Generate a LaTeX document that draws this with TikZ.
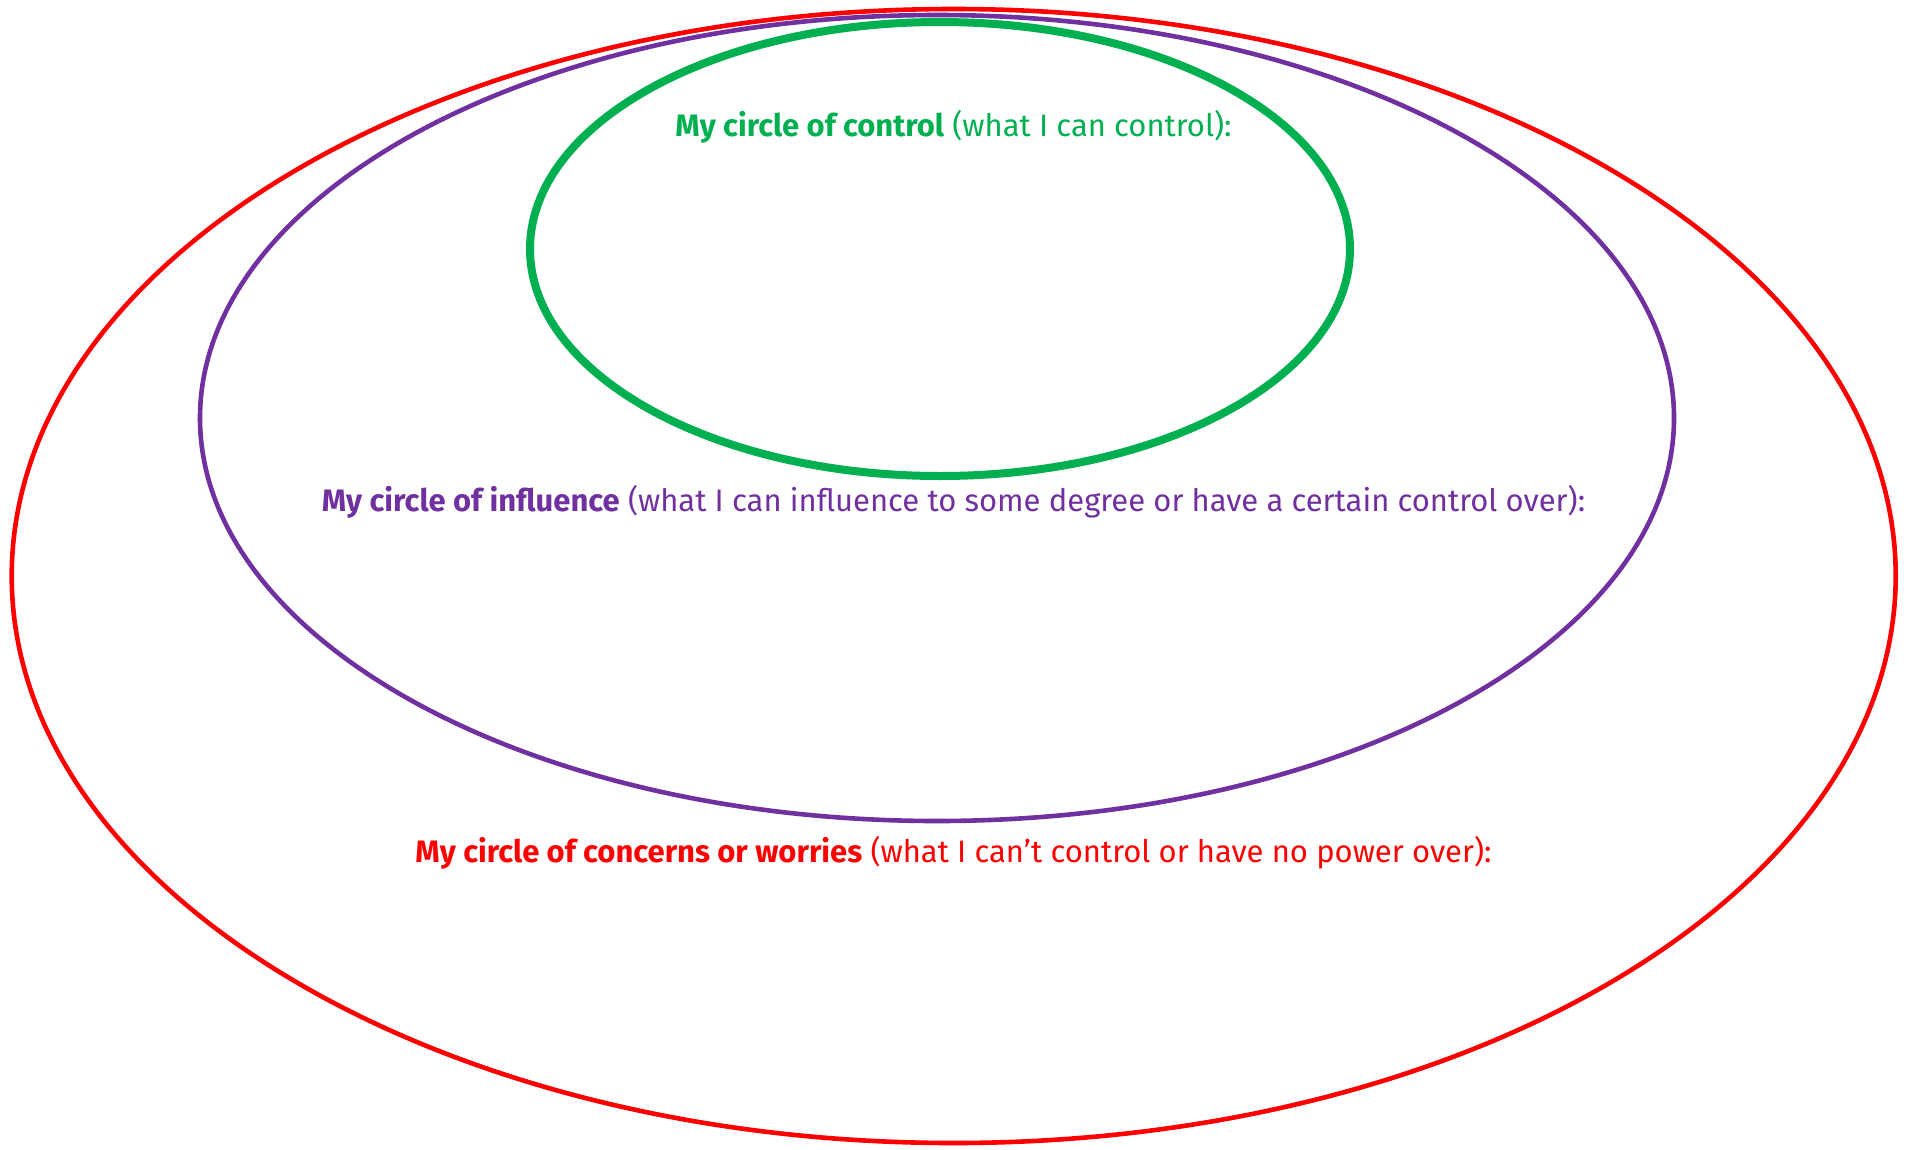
\documentclass[tikz,border=0pt]{standalone}
\usepackage{fontspec}
\setmainfont{Fira Sans}
\definecolor{cred}{HTML}{FF0000}
\definecolor{cpurple}{HTML}{7030A0}
\definecolor{cgreen}{HTML}{00B050}
\tikzset{
  ring/.style={line width=4.6pt},
  lbl/.style={inner sep=0pt, anchor=center, font=\fontsize{31pt}{35pt}\selectfont},
}
\begin{document}
\begin{tikzpicture}[x=1pt,y=-1pt]
\useasboundingbox (0,0) rectangle (1911,1149);
\draw[ring, cred] (953.7,576) ellipse [x radius=942pt, y radius=567pt];
\draw[ring, cpurple] (937,418) ellipse [x radius=737pt, y radius=403pt];
\draw[ring, line width=8pt, cgreen] (940,249) ellipse [x radius=410pt, y radius=227pt];
\node[lbl, text=cgreen] (tcontrol) at (953.5,127) {\textbf{My circle of control} (what I can control):};
\node[lbl, text=cpurple] (tinfl) at (953.5,502) {\textbf{My circle of influence} (what I can influence to some degree or have a certain control over):};
\node[lbl, text=cred] (tconc) at (953.5,853) {\textbf{My circle of concerns or worries} (what I can’t control or have no power over):};
\end{tikzpicture}
\end{document}
